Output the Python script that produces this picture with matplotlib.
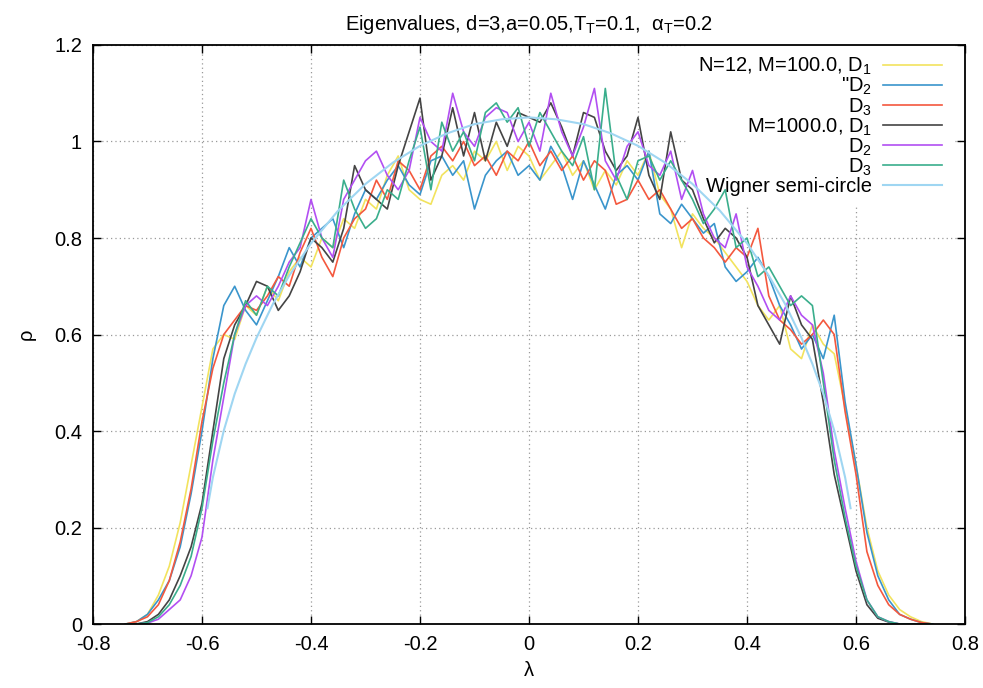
import numpy as np
import matplotlib
matplotlib.use('Agg')
import matplotlib.pyplot as plt

plt.rcParams['font.family'] = ['Liberation Sans', 'DejaVu Sans']
plt.rcParams['mathtext.default'] = 'regular'

# bin centres of the eigenvalue histograms
lam = np.round(np.arange(-0.74, 0.7401, 0.02), 2)

# N=12, M=100.0
m100_d1 = [0.00, 0.005, 0.02, 0.06, 0.12, 0.21, 0.33, 0.45, 0.57, 0.60,
           0.59, 0.66, 0.64, 0.70, 0.67, 0.73, 0.76, 0.74, 0.80, 0.78,
           0.84, 0.82, 0.88, 0.86, 0.93, 0.97, 0.90, 0.88, 0.87, 0.93,
           0.95, 0.92, 0.98, 0.96, 1.00, 0.94, 0.99, 0.97, 0.92, 0.95,
           0.98, 0.93, 0.96, 0.90, 0.94, 0.91, 0.96, 0.93, 0.98, 0.89,
           0.86, 0.78, 0.85, 0.82, 0.80, 0.77, 0.74, 0.71, 0.66, 0.63,
           0.66, 0.57, 0.55, 0.62, 0.58, 0.56, 0.45, 0.33, 0.20, 0.11,
           0.06, 0.03, 0.015, 0.005, 0.00]
m100_d2 = [0.00, 0.005, 0.02, 0.05, 0.09, 0.16, 0.27, 0.40, 0.55, 0.66,
           0.70, 0.65, 0.62, 0.67, 0.72, 0.78, 0.74, 0.80, 0.82, 0.84,
           0.78, 0.85, 0.90, 0.88, 0.92, 0.95, 0.91, 0.89, 0.96, 0.97,
           0.93, 0.96, 0.86, 0.93, 0.96, 0.98, 0.93, 0.95, 0.92, 0.99,
           0.95, 0.88, 0.96, 0.91, 0.86, 0.93, 0.95, 0.92, 0.98, 0.85,
           0.83, 0.87, 0.84, 0.81, 0.83, 0.74, 0.71, 0.73, 0.76, 0.72,
           0.66, 0.62, 0.57, 0.60, 0.55, 0.64, 0.46, 0.33, 0.19, 0.10,
           0.05, 0.02, 0.01, 0.003, 0.00]
m100_d3 = [0.00, 0.005, 0.015, 0.04, 0.09, 0.17, 0.28, 0.42, 0.53, 0.60,
           0.63, 0.66, 0.65, 0.68, 0.72, 0.70, 0.77, 0.82, 0.76, 0.72,
           0.80, 0.84, 0.86, 0.92, 0.88, 0.96, 0.94, 0.90, 0.97, 0.99,
           0.96, 1.00, 0.95, 0.97, 0.93, 0.98, 0.96, 1.00, 0.95, 0.98,
           0.94, 0.97, 0.92, 0.96, 0.94, 0.87, 0.88, 0.92, 0.88, 0.90,
           0.86, 0.82, 0.84, 0.80, 0.78, 0.75, 0.78, 0.76, 0.82, 0.68,
           0.63, 0.61, 0.58, 0.60, 0.63, 0.60, 0.44, 0.31, 0.15, 0.08,
           0.04, 0.02, 0.01, 0.003, 0.00]
# M=1000.0
m1000_d1 = [0.00, 0.00, 0.005, 0.02, 0.05, 0.10, 0.16, 0.25, 0.40, 0.55,
            0.62, 0.66, 0.71, 0.70, 0.65, 0.68, 0.73, 0.80, 0.78, 0.75,
            0.82, 0.95, 0.90, 0.88, 0.86, 0.95, 1.02, 1.09, 0.92, 0.97,
            1.07, 0.97, 1.06, 0.96, 1.04, 0.99, 1.06, 1.05, 1.04, 1.08,
            1.03, 0.97, 1.06, 1.05, 0.98, 0.94, 0.97, 1.05, 0.93, 0.88,
            1.02, 0.92, 0.90, 0.84, 0.79, 0.82, 0.80, 0.76, 0.66, 0.62,
            0.58, 0.68, 0.62, 0.59, 0.46, 0.31, 0.21, 0.11, 0.04, 0.012,
            0.004, 0.00, 0.00, 0.00, 0.00]
m1000_d2 = [0.00, 0.00, 0.002, 0.01, 0.03, 0.05, 0.10, 0.18, 0.34, 0.47,
            0.60, 0.66, 0.68, 0.66, 0.70, 0.75, 0.78, 0.88, 0.80, 0.76,
            0.88, 0.92, 0.96, 0.98, 0.93, 0.90, 0.94, 1.05, 1.00, 0.98,
            1.10, 1.02, 0.99, 1.05, 1.07, 1.06, 1.00, 1.04, 0.98, 1.10,
            1.02, 0.97, 1.03, 1.11, 0.96, 0.92, 0.99, 1.02, 0.95, 0.93,
            0.98, 0.88, 0.94, 0.85, 0.80, 0.78, 0.85, 0.74, 0.70, 0.65,
            0.63, 0.68, 0.64, 0.62, 0.52, 0.36, 0.24, 0.13, 0.05, 0.015,
            0.005, 0.00, 0.00, 0.00, 0.00]
m1000_d3 = [0.00, 0.00, 0.003, 0.015, 0.04, 0.08, 0.14, 0.24, 0.38, 0.50,
            0.60, 0.67, 0.64, 0.70, 0.68, 0.74, 0.79, 0.84, 0.80, 0.78,
            0.92, 0.86, 0.82, 0.84, 0.90, 0.88, 0.96, 1.03, 0.90, 1.04,
            0.98, 1.02, 0.96, 1.06, 1.08, 1.04, 1.07, 0.99, 1.06, 1.02,
            0.98, 0.95, 1.01, 0.90, 1.11, 0.93, 0.88, 0.96, 0.97, 0.92,
            0.96, 0.92, 0.88, 0.83, 0.86, 0.90, 0.78, 0.80, 0.72, 0.74,
            0.70, 0.66, 0.68, 0.66, 0.50, 0.34, 0.22, 0.12, 0.05, 0.015,
            0.005, 0.00, 0.00, 0.00, 0.00]

# Wigner semi-circle
wig_lam = [-0.59, -0.58, -0.56, -0.54, -0.52, -0.50, -0.47, -0.44, -0.40,
           -0.35, -0.30, -0.25, -0.20, -0.15, -0.10, -0.05, 0.00, 0.05, 0.10,
           0.15, 0.20, 0.25, 0.30, 0.35, 0.40, 0.44, 0.47, 0.50, 0.52,
           0.54, 0.56, 0.58, 0.59]
wig_rho = [0.240, 0.304, 0.401, 0.477, 0.539, 0.593, 0.663, 0.722, 0.789,
           0.857, 0.912, 0.956, 0.991, 1.017, 1.036, 1.046, 1.050, 1.046, 1.036,
           1.017, 0.991, 0.956, 0.912, 0.857, 0.789, 0.722, 0.663, 0.593, 0.539,
           0.477, 0.401, 0.304, 0.240]

series = [
    (m100_d1, 'N=12, M=100.0, $D_1$', '#f2e35e'),
    (m100_d2, '"$D_2$', '#3a95cc'),
    (m100_d3, '$D_3$', '#f4583e'),
    (m1000_d1, 'M=1000.0, $D_1$', '#444444'),
    (m1000_d2, '$D_2$', '#b24ff2'),
    (m1000_d3, '$D_3$', '#3aae8c'),
]

fig = plt.figure(figsize=(9.83, 6.88), dpi=100)
ax = fig.add_axes([0.0946, 0.093, 0.8871, 0.8416])

for vals, lab, col in series:
    ax.plot(lam, vals, color=col, lw=1.2, label=lab)
ax.plot(wig_lam, wig_rho, color='#9fd6f2', lw=1.5, label='Wigner semi-circle')

ax.set_xlim(-0.8, 0.8)
ax.set_ylim(0, 1.2)
ax.set_xticks(np.arange(-0.8, 0.81, 0.2))
ax.set_yticks(np.arange(0, 1.21, 0.2))
ax.set_xticklabels(['-0.8', '-0.6', '-0.4', '-0.2', '0', '0.2', '0.4', '0.6', '0.8'])
ax.set_yticklabels(['0', '0.2', '0.4', '0.6', '0.8', '1', '1.2'])
ax.tick_params(direction='in', top=True, right=True, length=6, width=1,
               labelsize=14.5, pad=8)
ax.grid(True, color='#999999', lw=0.9, linestyle=(0, (1, 2.5)))
ax.set_axisbelow(True)
for s in ax.spines.values():
    s.set_linewidth(1.3)

ax.set_xlabel('λ', fontsize=14.5, labelpad=5)
ax.set_ylabel('ρ', fontsize=14.5, labelpad=13)
ax.set_title('Eigenvalues, d=3,a=0.05,T$_T$=0.1,  $\\alpha_T$=0.2', fontsize=14.5, pad=11)

# gnuplot-style key: text right-aligned, sample line on the right,
# its box hides the grid but the curves run over it
leg = ax.legend(loc='upper right', bbox_to_anchor=(0.986, 1.0), markerfirst=False,
                frameon=True, fancybox=False, edgecolor='none', facecolor='white',
                framealpha=1, fontsize=14.5, labelspacing=-0.06, handlelength=2.9,
                handletextpad=0.55, borderpad=0.55, borderaxespad=0.0)
leg.set_zorder(1)

fig.savefig('out.png', dpi=100)
